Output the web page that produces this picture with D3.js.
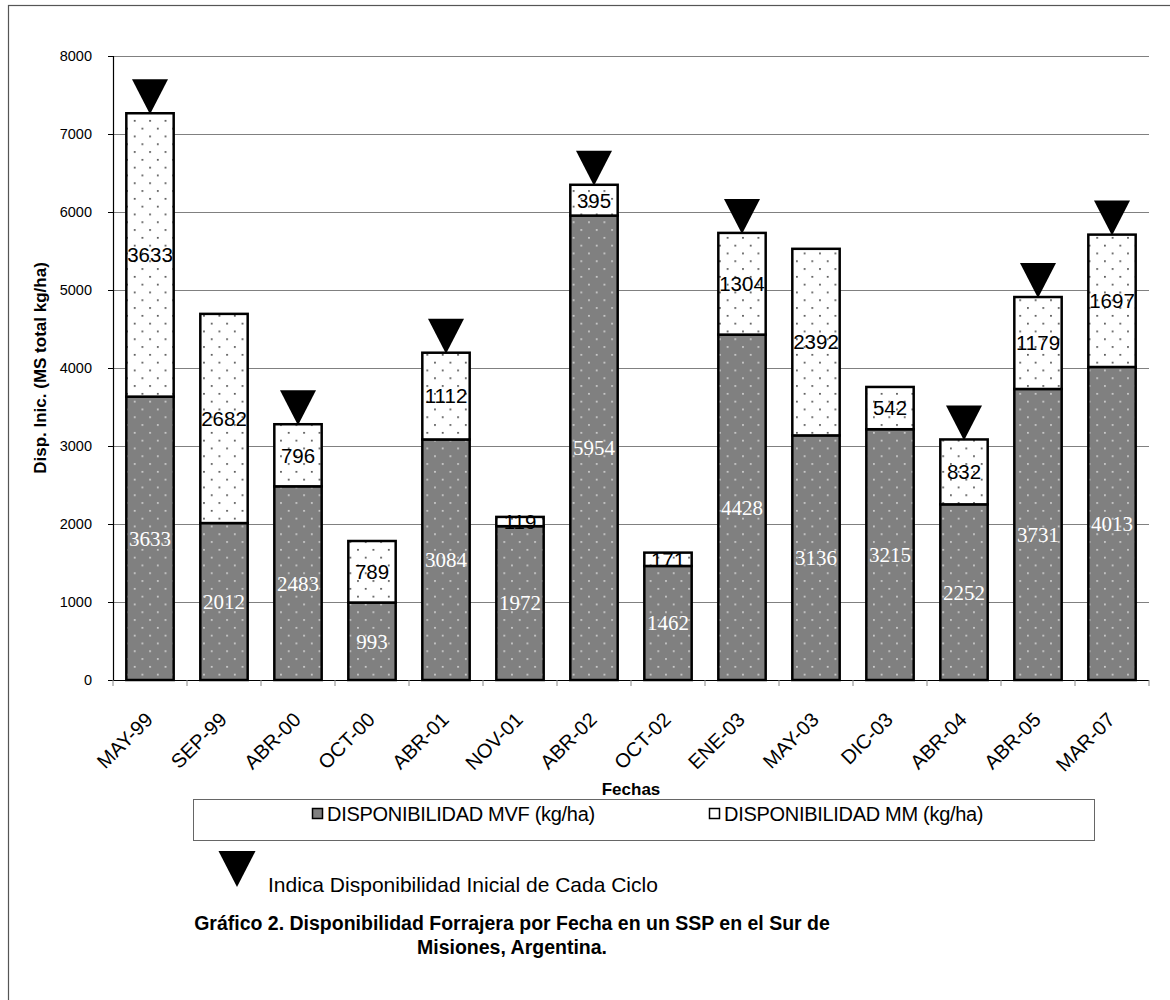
<!DOCTYPE html>
<html>
<head>
<meta charset="utf-8">
<script src="https://cdn.jsdelivr.net/npm/d3@7"></script>
<style>
  html, body { margin: 0; padding: 0; background: #fff; }
  svg { display: block; }
</style>
</head>
<body>
<svg id="chart" width="1170" height="1000"></svg>
<script>
// Fecha de muestreo
const fechas = ["MAY-99","SEP-99","ABR-00","OCT-00","ABR-01","NOV-01","ABR-02","OCT-02","ENE-03","MAY-03","DIC-03","ABR-04","ABR-05","MAR-07"];
// Disponibilidad MVF (kg/ha)
const mvf = [3633, 2012, 2483, 993, 3084, 1972, 5954, 1462, 4428, 3136, 3215, 2252, 3731, 4013];
// Disponibilidad MM (kg/ha)
const mm = [3633, 2682, 796, 789, 1112, 119, 395, 171, 1304, 2392, 542, 832, 1179, 1697];
// Fechas que marcan el inicio de cada ciclo
const inicioCiclo = ["MAY-99","ABR-00","ABR-01","ABR-02","ENE-03","ABR-04","ABR-05","MAR-07"];
const yTicks = [0, 1000, 2000, 3000, 4000, 5000, 6000, 7000, 8000];

const SANS = "Arial, 'Liberation Sans', sans-serif";
const SERIF = "'Times New Roman', 'Liberation Serif', serif";

const svg = d3.select("#chart");
const plot = {left: 113, top: 56, right: 1149, bottom: 680};

const x = d3.scaleBand().domain(fechas).range([plot.left, plot.right]).paddingInner(0.36).paddingOuter(0.18);
const xTick = d3.scaleBand().domain(fechas).range([plot.left, plot.right]);
const y = d3.scaleLinear().domain([0, 8000]).range([plot.bottom, plot.top]);

// punteado de las barras
const defs = svg.append("defs");
function dots(id, bg, dot) {
  const p = defs.append("pattern").attr("id", id).attr("patternUnits", "userSpaceOnUse")
    .attr("width", 15.4).attr("height", 15.6);
  p.append("rect").attr("width", 15.4).attr("height", 15.6).attr("fill", bg);
  p.append("rect").attr("x", 3).attr("y", 3).attr("width", 1.6).attr("height", 1.6).attr("fill", dot);
  p.append("rect").attr("x", 10.7).attr("y", 10.8).attr("width", 1.6).attr("height", 1.6).attr("fill", dot);
}
dots("patMVF", "#808080", "#dedede");
dots("patMM", "#ffffff", "#333333");

// marco exterior
svg.append("rect").attr("x", 8.5).attr("y", 5.5).attr("width", 1200).attr("height", 1100)
  .attr("fill", "none").attr("stroke", "#555").attr("stroke-width", 1.2);

// líneas de la grilla
svg.append("g").selectAll("line").data(yTicks.filter(d => d > 0)).join("line")
  .attr("x1", plot.left).attr("x2", plot.right)
  .attr("y1", d => Math.round(y(d)) + 0.5).attr("y2", d => Math.round(y(d)) + 0.5)
  .attr("stroke", "#808080").attr("stroke-width", 1);

// eje Y
const yAxis = svg.append("g").attr("transform", `translate(${plot.left},0)`)
  .call(d3.axisLeft(y).tickValues(yTicks).tickSize(5).tickPadding(16).tickFormat(d3.format("d")));
yAxis.select(".domain").attr("stroke", "#000").attr("stroke-width", 1.2);
yAxis.selectAll(".tick line").attr("stroke", "#000");
yAxis.selectAll("text").attr("font-family", SANS).attr("font-size", 14.5).attr("fill", "#000");

// barras apiladas
const bars = svg.append("g");
fechas.forEach((f, i) => {
  const x0 = x(f), w = x.bandwidth();
  bars.append("rect").attr("x", x0).attr("y", y(mvf[i])).attr("width", w).attr("height", y(0) - y(mvf[i]))
    .attr("fill", "url(#patMVF)").attr("stroke", "#000").attr("stroke-width", 2.5);
  bars.append("rect").attr("x", x0).attr("y", y(mvf[i] + mm[i])).attr("width", w).attr("height", y(mvf[i]) - y(mvf[i] + mm[i]))
    .attr("fill", "url(#patMM)").attr("stroke", "#000").attr("stroke-width", 2.5);
});

// eje X
const xAxisG = svg.append("g").attr("transform", `translate(0,${plot.bottom})`);
xAxisG.append("line").attr("x1", plot.left).attr("x2", plot.right).attr("y1", 0.5).attr("y2", 0.5)
  .attr("stroke", "#000").attr("stroke-width", 1.2);
xAxisG.selectAll("line.tk").data(fechas).join("line").attr("class", "tk")
  .attr("x1", d => xTick(d)).attr("x2", d => xTick(d)).attr("y1", 0).attr("y2", 6)
  .attr("stroke", "#888");
xAxisG.append("line").attr("x1", plot.right).attr("x2", plot.right).attr("y1", 0).attr("y2", 6).attr("stroke", "#888");
xAxisG.selectAll("text").data(fechas).join("text")
  .attr("transform", d => `translate(${x(d) + x.bandwidth() / 2 + 4},${41}) rotate(-45)`)
  .attr("text-anchor", "end")
  .attr("font-family", SANS).attr("font-size", 20).attr("fill", "#000")
  .text(d => d);

// etiquetas de valores
const lab = svg.append("g");
fechas.forEach((f, i) => {
  const cx = x(f) + x.bandwidth() / 2;
  lab.append("text").attr("x", cx).attr("y", y(mvf[i] / 2)).attr("dy", "0.35em")
    .attr("text-anchor", "middle").attr("font-family", SERIF)
    .attr("font-size", 21).attr("fill", "#fff").text(mvf[i]);
  lab.append("text").attr("x", cx).attr("y", y(mvf[i] + mm[i] / 2)).attr("dy", "0.36em")
    .attr("text-anchor", "middle").attr("font-family", SANS)
    .attr("font-size", 20.5).attr("fill", "#000").text(mm[i]);
});

// triángulos de inicio de ciclo
const tri = (cx, tipY, w, h) => `M${cx - w / 2},${tipY - h}L${cx + w / 2},${tipY - h}L${cx},${tipY}Z`;
svg.append("g").selectAll("path").data(inicioCiclo).join("path")
  .attr("d", d => { const i = fechas.indexOf(d); return tri(x(d) + x.bandwidth() / 2, y(mvf[i] + mm[i]) + 1, 36, 35); })
  .attr("fill", "#000");

// títulos de ejes
svg.append("text").attr("transform", `translate(46,${(plot.top + plot.bottom) / 2}) rotate(-90)`).attr("text-anchor", "middle")
  .attr("font-family", SANS).attr("font-size", 17).attr("font-weight", "bold")
  .text("Disp. Inic. (MS total kg/ha)");
svg.append("text").attr("x", (plot.left + plot.right) / 2).attr("y", 795).attr("text-anchor", "middle")
  .attr("font-family", SANS).attr("font-size", 17).attr("font-weight", "bold")
  .text("Fechas");

// leyenda
const lg = svg.append("g");
lg.append("rect").attr("x", 193.5).attr("y", 799.5).attr("width", 901).attr("height", 41)
  .attr("fill", "#fff").attr("stroke", "#666").attr("stroke-width", 1);
const items = [
  {name: "DISPONIBILIDAD MVF (kg/ha)", x: 312, fill: "#808080"},
  {name: "DISPONIBILIDAD MM (kg/ha)", x: 709, fill: "#fff"}
];
items.forEach(it => {
  lg.append("rect").attr("x", it.x + 0.5).attr("y", 808.5).attr("width", 10).attr("height", 10)
    .attr("fill", it.fill).attr("stroke", "#000").attr("stroke-width", 1.5);
  lg.append("text").attr("x", it.x + 15).attr("y", 821).attr("font-family", SANS)
    .attr("font-size", 20).attr("fill", "#000").attr("letter-spacing", "-0.3").text(it.name);
});

// nota del triángulo
svg.append("path").attr("d", tri(237, 887, 37, 36)).attr("fill", "#000");
svg.append("text").attr("x", 268).attr("y", 892).attr("font-family", SANS)
  .attr("font-size", 21).attr("fill", "#000").text("Indica Disponibilidad Inicial de Cada Ciclo");

// título del gráfico
const t = svg.append("text").attr("text-anchor", "middle").attr("font-family", SANS)
  .attr("font-size", 19.5).attr("font-weight", "bold").attr("fill", "#000");
t.append("tspan").attr("x", 512).attr("y", 930).text("Gráfico 2. Disponibilidad Forrajera por Fecha en un SSP en el Sur de");
t.append("tspan").attr("x", 512).attr("y", 954).text("Misiones, Argentina.");
</script>
</body>
</html>
